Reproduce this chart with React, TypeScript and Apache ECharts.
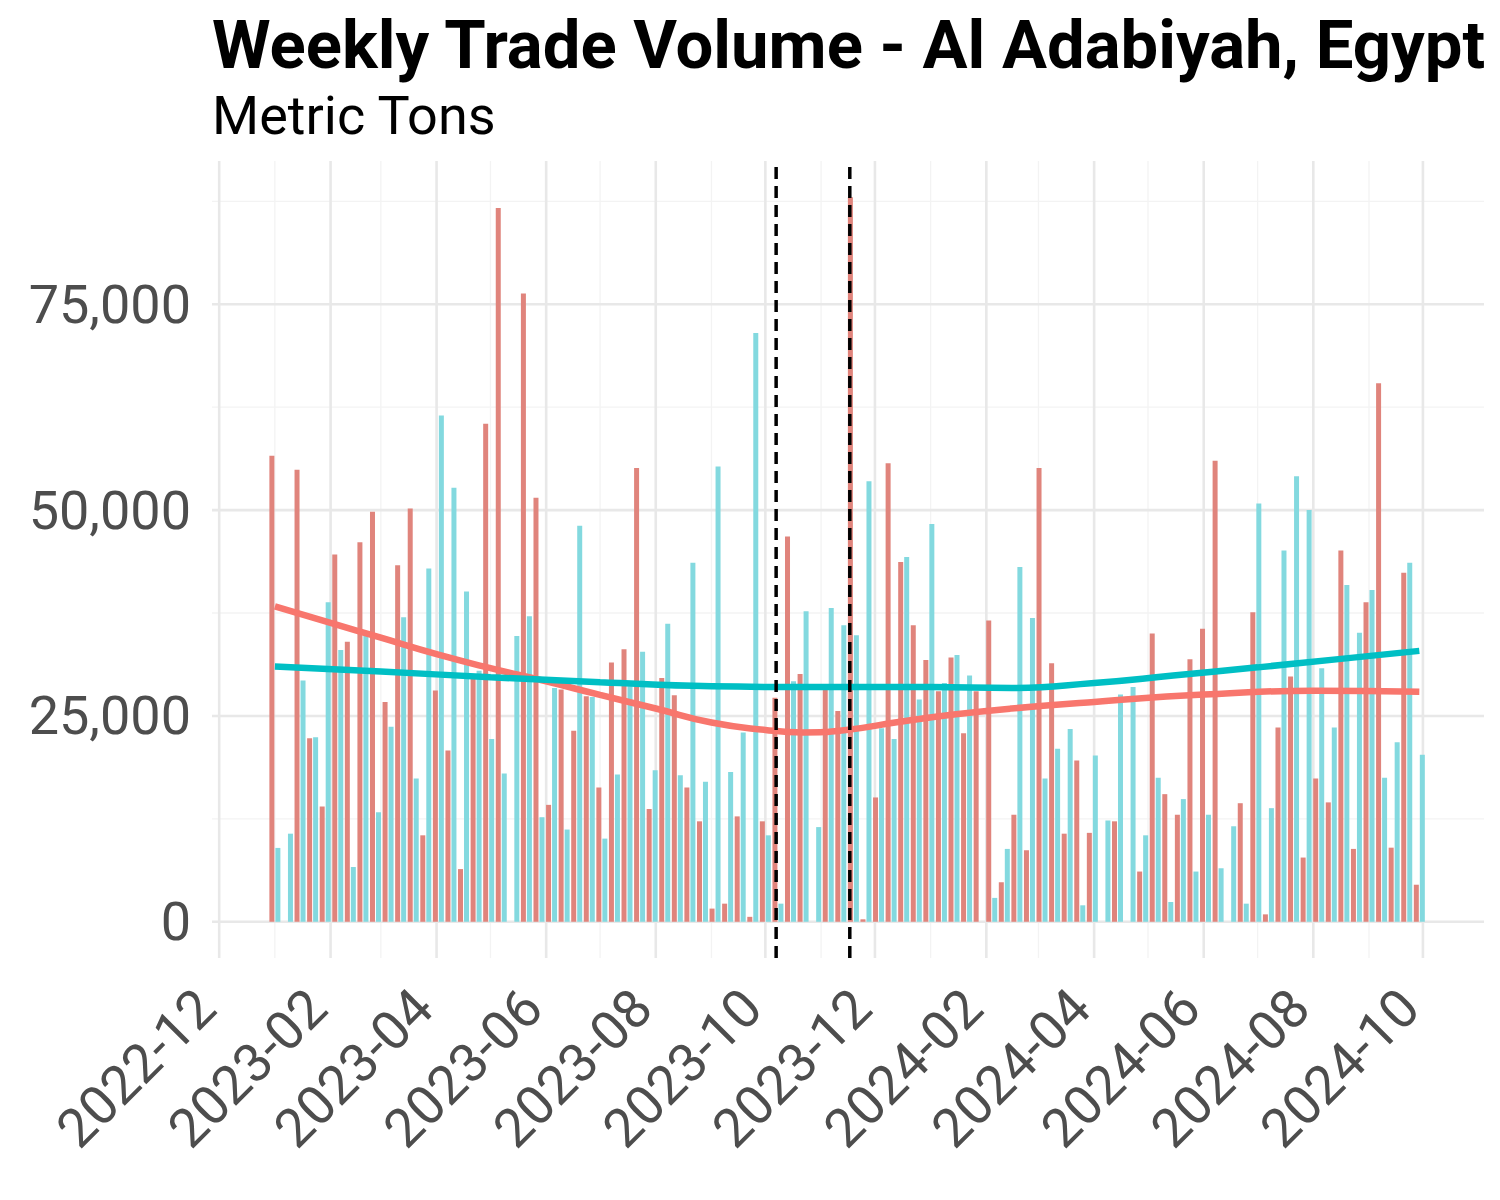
import React, { useEffect, useRef } from "react";
import * as echarts from "echarts";

// ---------- DATA ----------
const firstWeek = "2023-01-01";
// red bars (first group)
const exportValues = [
  56600, 0, 54900, 22300, 14000, 44600, 34000, 46100, 49800, 26700,
  43300, 50200, 10500, 28100, 20800, 6400, 30000, 60500, 86700, 0,
  76300, 51500, 14200, 28200, 23200, 27400, 16300, 31500, 33100, 55100,
  13700, 29600, 27500, 16300, 12200, 1600, 2200, 12800, 600, 12200,
  27200, 46800, 30100, 0, 28200, 25600, 88000, 300, 15100, 55700,
  43700, 36000, 31800, 28000, 32100, 22900, 28000, 36600, 4800, 13000,
  8700, 55100, 31400, 10700, 19600, 10800, 0, 12200, 0, 6100,
  35000, 15500, 13000, 31900, 35600, 56000, 0, 14400, 37600, 900,
  23600, 29800, 7800, 17400, 14500, 45100, 8850, 38800, 65400, 9000,
  42400, 4500,
];
// teal bars (second group)
const importValues = [
  8970, 10700, 29300, 22400, 38800, 33000, 6650, 34700, 13300, 23700,
  37000, 17400, 42900, 61500, 52700, 40100, 30500, 22200, 18000, 34700,
  37100, 12700, 28400, 11200, 48100, 27300, 10100, 17900, 28600, 32800,
  18400, 36200, 17800, 43600, 17000, 55300, 18200, 23000, 71500, 10500,
  2200, 29200, 37700, 11500, 38100, 36000, 34800, 53500, 23500, 22200,
  44300, 27000, 48300, 29000, 32400, 29900, 0, 2900, 8850, 43100,
  36900, 17400, 21000, 23400, 2000, 20200, 12300, 27600, 28500, 10500,
  17500, 2400, 14900, 6100, 13000, 6500, 11600, 2200, 50800, 13800,
  45100, 54100, 50000, 30800, 23600, 40900, 35100, 40300, 17500, 21800,
  43600, 20300,
];
const exportTrendDates = [
  "2023-01-01", "2023-02-01", "2023-03-01", "2023-04-01", "2023-05-01",
  "2023-06-01", "2023-07-01", "2023-08-01", "2023-09-01", "2023-10-01",
  "2023-10-22", "2023-11-15", "2023-12-15", "2024-01-15", "2024-02-15",
  "2024-04-01", "2024-06-01", "2024-08-01", "2024-09-29",
];
const exportTrendValues = [
  38300, 36300, 34500, 32500, 30800, 29200, 27550, 25900, 24200, 23300,
  23000, 23300, 24300, 25200, 25900, 26700, 27600, 28050, 27950,
];
const importTrendDates = [
  "2023-01-01", "2023-03-01", "2023-05-01", "2023-07-01", "2023-09-01",
  "2023-11-01", "2024-01-01", "2024-02-15", "2024-04-01", "2024-05-15",
  "2024-07-01", "2024-08-15", "2024-09-29",
];
const importTrendValues = [
  31000, 30400, 29700, 29100, 28600, 28500, 28500, 28400, 29000, 29900,
  30900, 31900, 32900,
];
const eventDates = ["2023-10-07", "2023-11-17"];
const yTicks = [0, 25000, 50000, 75000];
const yMinorTicks = [12500, 37500, 62500, 87500];
const xTickLabels = [
  "2022-12", "2023-02", "2023-04", "2023-06", "2023-08", "2023-10",
  "2023-12", "2024-02", "2024-04", "2024-06", "2024-08", "2024-10",
];
const xMinorLabels = [
  "2023-01", "2023-03", "2023-05", "2023-07", "2023-09", "2023-11",
  "2024-01", "2024-03", "2024-05", "2024-07", "2024-09",
];

const TITLE = "Weekly Trade Volume - Al Adabiyah, Egypt";
const SUBTITLE = "Metric Tons";

// ---------- helpers ----------
const DAY = 86400000;
const ts = (s: string) => Date.parse((s.length === 7 ? s + "-01" : s) + "T00:00:00Z");
const X_MIN = ts("2022-12-01") - 4 * DAY;
const X_MAX = ts("2022-12-01") + 704 * DAY;
const Y_MIN = -4400;
const Y_MAX = 92400;

const RED_BAR = "#E0847C";
const TEAL_BAR = "#83D9DF";
const RED_LINE = "#F8766D";
const TEAL_LINE = "#00BFC4";
const FONT = "Roboto";

function vSegments(values: number[]) {
  const out: any[] = [];
  values.forEach((v) => {
    out.push([v, Y_MIN], [v, Y_MAX], [v, "-"]);
  });
  return out;
}
function hSegments(values: number[]) {
  const out: any[] = [];
  values.forEach((v) => {
    out.push([X_MIN, v], [X_MAX, v], ["-", v]);
  });
  return out;
}

export default function App() {
  const ref = useRef<HTMLDivElement>(null);
  useEffect(() => {
    if (!ref.current) return;
    const chart = echarts.init(ref.current, null, { renderer: "svg" });
    const t0 = ts(firstWeek);
    const weeks = exportValues.map((_, i) => t0 + i * 7 * DAY);
    const majorX = xTickLabels.map(ts);
    const minorX = xMinorLabels.map(ts);

    const option: any = {
      animation: false,
      backgroundColor: "#ffffff",
      title: [
        {
          text: TITLE,
          left: 212,
          top: 11,
          padding: 0,
          textStyle: { fontFamily: FONT, fontSize: 67, fontWeight: "bold", color: "#000000" },
        },
        {
          text: SUBTITLE,
          left: 212,
          top: 88,
          padding: 0,
          textStyle: { fontFamily: FONT, fontSize: 54, fontWeight: "normal", color: "#000000" },
        },
      ],
      grid: { left: 212, top: 161, width: 1272, height: 797, containLabel: false },
      xAxis: {
        type: "value",
        min: X_MIN,
        max: X_MAX,
        axisLine: { show: false },
        axisTick: { show: false, customValues: majorX },
        splitLine: { show: false },
        axisLabel: {
          customValues: majorX,
          rotate: 45,
          align: "right",
          verticalAlign: "middle",
          padding: [0, 19, 0, 0],
          margin: 27,
          fontFamily: FONT,
          fontSize: 54,
          color: "#4D4D4D",
          formatter: (v: number) => {
            const d = new Date(v);
            const m = d.getUTCMonth() + 1;
            return d.getUTCFullYear() + "-" + (m < 10 ? "0" + m : "" + m);
          },
        },
      },
      yAxis: {
        type: "value",
        min: Y_MIN,
        max: Y_MAX,
        axisLine: { show: false },
        axisTick: { show: false, customValues: yTicks },
        splitLine: { show: false },
        axisLabel: {
          customValues: yTicks,
          margin: 21,
          fontFamily: FONT,
          fontSize: 54,
          color: "#4D4D4D",
          formatter: (v: number) => v.toLocaleString("en-US"),
        },
      },
      series: [
        {
          type: "line",
          name: "minor-v",
          data: vSegments(minorX),
          z: 0,
          silent: true,
          symbol: "none",
          connectNulls: false,
          lineStyle: { color: "#F3F3F3", width: 1.3 },
        },
        {
          type: "line",
          name: "minor-h",
          data: hSegments(yMinorTicks),
          z: 0,
          silent: true,
          symbol: "none",
          connectNulls: false,
          lineStyle: { color: "#F3F3F3", width: 1.3 },
        },
        {
          type: "line",
          name: "major-v",
          data: vSegments(majorX),
          z: 1,
          silent: true,
          symbol: "none",
          connectNulls: false,
          lineStyle: { color: "#E8E8E8", width: 2.6 },
        },
        {
          type: "line",
          name: "major-h",
          data: hSegments(yTicks),
          z: 1,
          silent: true,
          symbol: "none",
          connectNulls: false,
          lineStyle: { color: "#E8E8E8", width: 2.6 },
        },
        {
          type: "bar",
          name: "Export",
          data: exportValues.map((v, i) => [weeks[i], v]),
          barWidth: 5,
          barGap: "20%",
          z: 2,
          itemStyle: { color: RED_BAR },
        },
        {
          type: "bar",
          name: "Import",
          data: importValues.map((v, i) => [weeks[i], v]),
          barWidth: 5,
          barGap: "20%",
          z: 2,
          itemStyle: { color: TEAL_BAR },
        },
        {
          type: "line",
          name: "Export trend",
          data: exportTrendDates.map((d, i) => [ts(d), exportTrendValues[i]]),
          smooth: 0.5,
          symbol: "none",
          z: 3,
          lineStyle: { color: RED_LINE, width: 6.5 },
        },
        {
          type: "line",
          name: "Import trend",
          data: importTrendDates.map((d, i) => [ts(d), importTrendValues[i]]),
          smooth: 0.5,
          symbol: "none",
          z: 3,
          lineStyle: { color: TEAL_LINE, width: 6.5 },
        },
        {
          type: "line",
          name: "events",
          data: vSegments(eventDates.map(ts)),
          z: 4,
          silent: true,
          symbol: "none",
          connectNulls: false,
          lineStyle: { color: "#000000", width: 3.5, type: [12, 7] },
        },
      ],
    };
    chart.setOption(option);
    return () => chart.dispose();
  }, []);
  return (
    <div
      ref={ref}
      style={{ position: "absolute", left: 0, top: 0, width: 1500, height: 1200, background: "#fff" }}
    />
  );
}
